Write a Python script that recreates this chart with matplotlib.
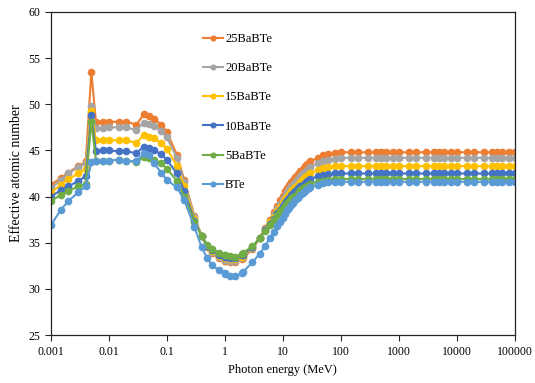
import matplotlib
matplotlib.use('Agg')
import matplotlib.pyplot as plt
import matplotlib.ticker as ticker

plt.rcParams['font.family'] = ['Liberation Serif', 'DejaVu Serif']

# photon energies (MeV)
energy = [0.001, 0.0015, 0.002, 0.003, 0.004, 0.005, 0.006, 0.008, 0.01, 0.015,
          0.02, 0.03, 0.04, 0.05, 0.06, 0.08, 0.1, 0.15, 0.2, 0.3,
          0.4, 0.5, 0.6, 0.8, 1, 1.022, 1.25, 1.5, 2, 2.044,
          3, 4, 5, 6, 7, 8, 9, 10, 11, 12,
          13, 14, 15, 16, 18, 20, 22, 24, 26, 28,
          30, 40, 50, 60, 80, 100, 150, 200, 300, 400,
          500, 600, 800, 1000, 1500, 2000, 3000, 4000, 5000, 6000,
          8000, 10000, 15000, 20000, 30000, 40000, 50000, 60000, 80000, 100000]

z_25 = [41.3, 42.0, 42.6, 43.3, 43.8, 53.5, 48.1, 48.1, 48.1, 48.1,
        48.1, 47.8, 48.9, 48.7, 48.4, 47.8, 47.0, 44.5, 41.8, 37.9,
        35.7, 34.5, 33.9, 33.3, 33.0, 33.0, 32.9, 32.9, 33.2, 33.3,
        34.3, 35.5, 36.6, 37.5, 38.3, 39.0, 39.6, 40.1, 40.6, 40.9,
        41.3, 41.6, 41.8, 42.1, 42.4, 42.8, 43.0, 43.3, 43.5, 43.6,
        43.8, 44.2, 44.5, 44.6, 44.7, 44.8, 44.8, 44.8, 44.8, 44.8,
        44.8, 44.8, 44.8, 44.8, 44.8, 44.8, 44.8, 44.8, 44.8, 44.8,
        44.8, 44.8, 44.8, 44.8, 44.8, 44.8, 44.8, 44.8, 44.8, 44.8]

z_20 = [40.9, 41.8, 42.5, 43.2, 43.6, 49.8, 47.4, 47.4, 47.5, 47.5,
        47.5, 47.2, 48.0, 47.9, 47.6, 47.1, 46.4, 44.2, 41.6, 37.8,
        35.7, 34.6, 34.0, 33.45, 33.15, 33.15, 33.05, 33.05, 33.35, 33.45,
        34.4, 35.5, 36.5, 37.3, 38.0, 38.7, 39.2, 39.7, 40.1, 40.5,
        40.8, 41.1, 41.3, 41.6, 41.9, 42.2, 42.5, 42.7, 42.9, 43.0,
        43.2, 43.6, 43.9, 44.0, 44.1, 44.2, 44.2, 44.2, 44.2, 44.2,
        44.2, 44.2, 44.2, 44.2, 44.2, 44.2, 44.2, 44.2, 44.2, 44.2,
        44.2, 44.2, 44.2, 44.2, 44.2, 44.2, 44.2, 44.2, 44.2, 44.2]

z_15 = [40.4, 41.3, 41.9, 42.5, 43.0, 49.3, 46.1, 46.1, 46.1, 46.1,
        46.1, 45.8, 46.7, 46.5, 46.3, 45.8, 45.2, 43.3, 41.1, 37.6,
        35.7, 34.65, 34.1, 33.55, 33.3, 33.3, 33.2, 33.2, 33.5, 33.6,
        34.5, 35.5, 36.4, 37.2, 37.8, 38.4, 38.9, 39.3, 39.7, 40.0,
        40.3, 40.6, 40.8, 41.0, 41.3, 41.6, 41.9, 42.1, 42.2, 42.4,
        42.5, 42.9, 43.1, 43.2, 43.3, 43.3, 43.3, 43.3, 43.3, 43.3,
        43.3, 43.3, 43.3, 43.3, 43.3, 43.3, 43.3, 43.3, 43.3, 43.3,
        43.3, 43.3, 43.3, 43.3, 43.3, 43.3, 43.3, 43.3, 43.3, 43.3]

z_10 = [40.0, 40.7, 41.1, 41.7, 42.2, 48.8, 44.9, 45.0, 45.0, 44.9,
        44.9, 44.7, 45.4, 45.3, 45.0, 44.6, 44.0, 42.5, 40.6, 37.4,
        35.7, 34.7, 34.2, 33.7, 33.45, 33.45, 33.35, 33.35, 33.65, 33.7,
        34.55, 35.5, 36.35, 37.0, 37.6, 38.2, 38.6, 39.0, 39.3, 39.6,
        39.9, 40.2, 40.4, 40.6, 40.9, 41.1, 41.3, 41.5, 41.7, 41.8,
        41.9, 42.2, 42.3, 42.4, 42.5, 42.5, 42.5, 42.5, 42.5, 42.5,
        42.5, 42.5, 42.5, 42.5, 42.5, 42.5, 42.5, 42.5, 42.5, 42.5,
        42.5, 42.5, 42.5, 42.5, 42.5, 42.5, 42.5, 42.5, 42.5, 42.5]

z_5 = [39.5, 40.2, 40.6, 41.1, 41.4, 48.1, 43.9, 43.9, 43.9, 44.0,
       43.9, 43.7, 44.3, 44.2, 44.0, 43.6, 43.0, 41.7, 40.0, 37.3,
       35.7, 34.8, 34.3, 33.9, 33.7, 33.7, 33.55, 33.5, 33.8, 33.9,
       34.6, 35.5, 36.3, 36.9, 37.5, 38.0, 38.4, 38.7, 39.0, 39.3,
       39.5, 39.8, 40.0, 40.1, 40.4, 40.7, 40.9, 41.0, 41.2, 41.3,
       41.4, 41.6, 41.7, 41.8, 41.9, 41.9, 41.9, 41.9, 41.9, 41.9,
       41.9, 41.9, 41.9, 41.9, 41.9, 41.9, 41.9, 41.9, 41.9, 41.9,
       41.9, 41.9, 41.9, 41.9, 41.9, 41.9, 41.9, 41.9, 41.9, 41.9]

z_bte = [36.9, 38.6, 39.5, 40.5, 41.1, 43.7, 43.8, 43.9, 43.9, 44.0,
         43.9, 43.8, 44.7, 44.5, 43.6, 42.6, 41.8, 41.0, 39.6, 36.7,
         34.5, 33.3, 32.6, 32.0, 31.7, 31.6, 31.4, 31.4, 31.7, 31.8,
         32.9, 33.8, 34.7, 35.5, 36.2, 36.8, 37.3, 37.7, 38.1, 38.5,
         38.8, 39.1, 39.3, 39.6, 39.9, 40.2, 40.4, 40.6, 40.8, 40.9,
         41.0, 41.3, 41.5, 41.6, 41.6, 41.6, 41.6, 41.6, 41.6, 41.6,
         41.6, 41.6, 41.6, 41.6, 41.6, 41.6, 41.6, 41.6, 41.6, 41.6,
         41.6, 41.6, 41.6, 41.6, 41.6, 41.6, 41.6, 41.6, 41.6, 41.6]

labels = ['25BaBTe', '20BaBTe', '15BaBTe', '10BaBTe', '5BaBTe', 'BTe']
series = [z_25, z_20, z_15, z_10, z_5, z_bte]
colors = ['#ED7D31', '#A5A5A5', '#FFC000', '#4472C4', '#70AD47', '#5B9BD5']

x_ticks = [0.001, 0.01, 0.1, 1, 10, 100, 1000, 10000, 100000]
x_ticklabels = ['0.001', '0.01', '0.1', '1', '10', '100', '1000', '10000', '100000']
y_ticks = [25, 30, 35, 40, 45, 50, 55, 60]

fig = plt.figure(figsize=(5.35, 3.83), dpi=100)
ax = fig.add_axes([0.095, 0.125, 0.867, 0.844])

for lab, vals, c in zip(labels, series, colors):
    ax.plot(energy, vals, color=c, marker='o', markersize=4.5, linewidth=1.5, label=lab)

ax.set_xscale('log')
ax.set_xlim(0.001, 100000)
ax.set_ylim(25, 60)
ax.xaxis.set_minor_locator(ticker.NullLocator())
ax.set_xticks(x_ticks)
ax.set_xticklabels(x_ticklabels)
ax.set_yticks(y_ticks)

for s in ax.spines.values():
    s.set_color('#262626')
    s.set_linewidth(0.9)
ax.tick_params(labelsize=8.5, length=4, width=0.8, color='#262626', direction='out')
ax.tick_params(axis='x', pad=4)

ax.set_xlabel('Photon energy (MeV)', fontsize=9)
ax.set_ylabel('Effective atomic number', fontsize=10)

ax.legend(loc='upper left', bbox_to_anchor=(0.327, 0.935), frameon=False, fontsize=9,
          labelspacing=1.38, handlelength=1.6, handletextpad=0.2,
          borderaxespad=0, borderpad=0, markerscale=0.75)

fig.savefig('out.png', dpi=100)
